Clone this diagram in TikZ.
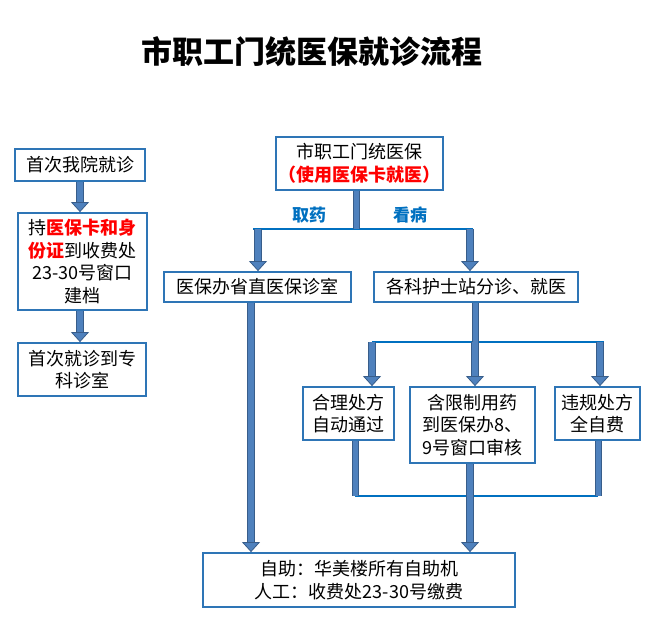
\documentclass[tikz,border=0pt]{standalone}
\usepackage{fontspec}
\setmainfont{Noto Sans CJK SC}
\usetikzlibrary{arrows.meta,calc}
\definecolor{boxblue}{HTML}{2E75B6}
\definecolor{lineblue}{HTML}{0070C0}
\definecolor{barfill}{HTML}{4F81BD}
\definecolor{baredge}{HTML}{385D8A}
\definecolor{hotred}{HTML}{FF0000}

\tikzset{
  box/.style={draw=boxblue, line width=1.8pt, fill=white, align=center, inner sep=1pt, font=\fontsize{18}{22.5}\selectfont},
  bar/.style={draw=barfill, line width=5pt, preaction={draw=baredge, line width=7pt}},
  blockarrow/.style={draw=barfill, line width=6pt,
    preaction={draw=baredge, line width=8pt, -, shorten >=9pt},
    -{Triangle[width=18pt, length=10pt, color=baredge, fill=barfill, line width=0.8pt]}},
  thinline/.style={draw=lineblue, line width=2.2pt},
  branchlabel/.style={text=lineblue, font=\fontsize{17}{20}\selectfont\bfseries}
}
\newcommand{\hotword}[1]{{\bfseries\color{hotred}#1}}

\begin{document}
\begin{tikzpicture}[x=1pt,y=-1pt]
\useasboundingbox (0,0) rectangle (656,639);
\node[font=\fontsize{31}{34}\selectfont\bfseries] (title) at (312,52) {市职工门统医保就诊流程};

% left column
\node[box, minimum width=130pt, minimum height=32pt] (first) at (80,165) {首次我院就诊};
\node[box, minimum width=129pt, minimum height=97pt] (card) at (82.5,261.5)
  {持\hotword{医保卡和身}\\\hotword{份证}到收费处\\23-30号窗口\\建档};
\node[box, minimum width=128pt, minimum height=53pt] (room) at (82,369.5) {首次就诊到专\\科诊室};
\draw[blockarrow] (first.south) -- (first.south |- card.north);
\draw[blockarrow] (first.south |- card.south) -- (first.south |- room.north);

% main flow
\node[box, minimum width=167pt, minimum height=53pt] (top) at (359.5,163.5)
  {市职工门统医保\\\hotword{（使用医保卡就医）}};
\node[box, minimum width=187pt, minimum height=30pt] (drug) at (257.5,287) {医保办省直医保诊室};
\node[box, minimum width=204pt, minimum height=30pt] (visit) at (476,287) {各科护士站分诊、就医};
\node[box, minimum width=91pt, minimum height=53pt] (ok) at (348.5,413.5) {合理处方\\自动通过};
\node[box, minimum width=125pt, minimum height=76pt] (limit) at (472.5,425) {含限制用药\\到医保办8、\\9号窗口审核};
\node[box, minimum width=85pt, minimum height=53pt] (bad) at (597.5,413.5) {违规处方\\全自费};
\node[box, minimum width=312pt, minimum height=54pt] (pay) at (359,580)
  {自助：华美楼所有自助机\\人工：收费处23-30号缴费};

\node[branchlabel] (take) at (309,215) {取药};
\node[branchlabel] (see) at (410,215) {看病};

\coordinate (split) at (356,229);
\coordinate (splitL) at (253,229);
\coordinate (splitR) at (473,229);
\coordinate (takeL) at (258,229);
\coordinate (seeR) at (470,229);
\draw[thinline] (splitL) -- (splitR);
\draw[bar] (top.south -| split) -- (split);
\draw[blockarrow] (takeL) -- (drug.north -| takeL);
\draw[blockarrow] (seeR) -- (visit.north -| seeR);

\coordinate (leftx) at (251,0);
\draw[blockarrow] (drug.south -| leftx) -- (pay.north -| leftx);

\coordinate (branch) at (475,342);
\coordinate (branchL) at (372,342);
\coordinate (branchR) at (600,342);
\coordinate (branchE) at (604,342);
\draw[thinline] (branchL) -- (branchE);
\draw[bar] (visit.south -| branch) -- (branch);
\draw[blockarrow] (branchL) -- (ok.north -| branchL);
\draw[blockarrow] (branch) -- (limit.north -| branch);
\draw[blockarrow] (branchR) -- (bad.north -| branchR);

\coordinate (joinL) at (355,496);
\coordinate (joinM) at (470,496);
\coordinate (joinR) at (598,496);
\draw[thinline] (joinL) -- (joinR);
\draw[bar] (ok.south -| joinL) -- (joinL);
\draw[bar] (bad.south -| joinR) -- (joinR);
\draw[blockarrow] (limit.south -| joinM) -- (pay.north -| joinM);
\end{tikzpicture}
\end{document}
